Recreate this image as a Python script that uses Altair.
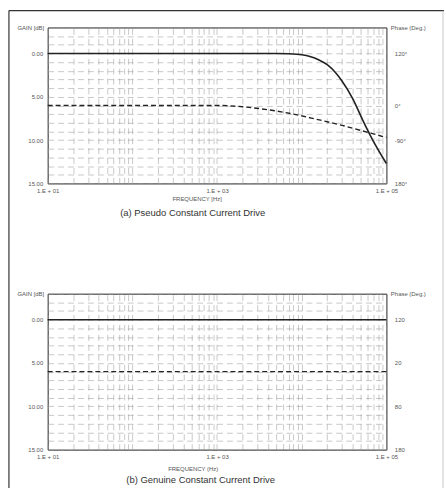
import altair as alt
import pandas as pd

# ---- data ----
freq_a_solid = [10, 1000, 5000, 7000, 10000, 12500, 16000, 20000, 25000, 30000, 40000, 52000, 69000, 100000]
gain_a_solid = [0, 0, 0, 0.03, 0.15, 0.35, 0.75, 1.3, 2.2, 3.2, 5.2, 7.6, 10.0, 12.7]
freq_a_dashed = [10, 1000, 2000, 4000, 8000, 15000, 30000, 60000, 100000]
gain_a_dashed = [6.0, 6.0, 6.15, 6.5, 7.0, 7.6, 8.3, 9.1, 9.7]
freq_b = [10, 100000]
gain_b_solid = [0, 0]
gain_b_dashed = [6, 6]

x_label_values = [10, 1000, 100000]
x_label_texts = ["1.E + 01", "1.E + 03", "1.E + 05"]
gain_label_values = [0, 5, 10, 15]
phase_a_values = [0, 6, 10, 15]
phase_a_texts = ["120°", "0°", "-90°", "180°"]
phase_b_values = [0, 5, 10, 15]
phase_b_texts = ["120", "20", "80", "180"]

grid_x = [m * 10 ** k for k in range(1, 5) for m in range(1, 10)] + [100000]
grid_y = list(range(-3, 16))

FONT = "Liberation Sans"
W, H = 341, 157
GRID = dict(grid=True, gridColor="#9a9a9a", gridDash=[6, 4], gridWidth=0.6, gridOpacity=0.9)


def map_expr(vals, texts):
    e = "''"
    for v, t in reversed(list(zip(vals, texts))):
        e = f"datum.value == {v} ? '{t}' : ({e})"
    return e


def panel(fs, gs, fd, gd, pvals, ptexts, xtitle, xtitle_x, xtitle_y, caption, cap_x, cap_y, frame):
    xenc = alt.X(
        "freq:Q",
        scale=alt.Scale(type="log", domain=[10, 100000], nice=False),
        axis=alt.Axis(
            values=grid_x, labelExpr=map_expr(x_label_values, x_label_texts),
            labelOverlap=False, labelFlush=False, ticks=False, domain=False,
            labelFont=FONT, labelFontSize=6, labelColor="#555", labelPadding=4,
            title=xtitle, titleFont=FONT, titleFontSize=6, titleFontWeight="normal",
            titleColor="#555", titleX=xtitle_x, titleY=xtitle_y, titleAlign="center",
            titleBaseline="middle", **GRID,
        ),
    )
    yscale = alt.Scale(domain=[-3, 15], reverse=True, nice=False, zero=False)
    left = alt.Axis(
        values=grid_y,
        labelExpr="indexof([0,5,10,15], datum.value) >= 0 ? format(datum.value, '.2f') : ''",
        labelOverlap=False, labelFlush=False, ticks=False, domain=False,
        labelFont=FONT, labelFontSize=6, labelColor="#555", labelPadding=5,
        title="GAIN [dB]", titleFont=FONT, titleFontSize=6, titleFontWeight="normal",
        titleColor="#555", titleAngle=0, titleX=-4, titleY=0, titleAlign="right",
        titleBaseline="middle", **GRID,
    )
    right = alt.Axis(
        orient="right", values=pvals, labelExpr=map_expr(pvals, ptexts),
        labelOverlap=False, labelFlush=False, ticks=False, domain=False, grid=False,
        labelFont=FONT, labelFontSize=6, labelColor="#555", labelPadding=8,
        title="Phase (Deg.)", titleFont=FONT, titleFontSize=6, titleFontWeight="normal",
        titleColor="#555", titleAngle=0, titleX=4, titleY=0, titleAlign="left",
        titleBaseline="middle",
    )
    solid = alt.Chart(pd.DataFrame({"freq": fs, "gain": gs})).mark_line(
        color="#222", strokeWidth=1.6, interpolate="monotone"
    ).encode(x=xenc, y=alt.Y("gain:Q", scale=yscale, axis=left))
    dashed = alt.Chart(pd.DataFrame({"freq": fd, "gain": gd})).mark_line(
        color="#222", strokeWidth=1.4, strokeDash=[5, 3], interpolate="monotone"
    ).encode(x=xenc, y=alt.Y("gain:Q", scale=yscale, axis=right))
    cap = alt.Chart(pd.DataFrame({"t": [caption]})).mark_text(
        font=FONT, fontSize=9.5, color="#333", align="center", baseline="middle"
    ).encode(x=alt.value(cap_x), y=alt.value(cap_y), text="t:N")
    layers = [solid, dashed, cap]
    if frame:
        fdata = pd.DataFrame({"a": [0]})
        layers.append(alt.Chart(fdata).mark_rule(color="#333", strokeWidth=1.2).encode(
            x=alt.value(-39), y=alt.value(-17), y2=alt.value(464)))
        layers.append(alt.Chart(fdata).mark_rule(color="#333", strokeWidth=1.2).encode(
            x=alt.value(-39), x2=alt.value(399), y=alt.value(-17)))
        layers.append(alt.Chart(fdata).mark_rule(color="#bbb", strokeWidth=0.8).encode(
            x=alt.value(398), y=alt.value(-17), y2=alt.value(464)))
    return alt.layer(*layers).resolve_axis(y="independent").properties(width=W, height=H)


top = panel(freq_a_solid, gain_a_solid, freq_a_dashed, gain_a_dashed,
            phase_a_values, phase_a_texts, "FREQUENCY [Hz]", 150, 15,
            "(a) Pseudo Constant Current Drive", 146, 187, True)
bottom = panel(freq_b, gain_b_solid, freq_b, gain_b_dashed,
               phase_b_values, phase_b_texts, "FREQUENCY (Hz)", 146, 19,
               "(b) Genuine Constant Current Drive", 154, 188, False)

chart = alt.vconcat(top, bottom, spacing=111, bounds="flush").properties(
    padding={"left": 7, "top": 7, "right": 0, "bottom": 0},
    background="white",
).configure_view(stroke="#222", strokeWidth=1)

chart.save("out.html", embed_options={"renderer": "svg", "actions": False})
